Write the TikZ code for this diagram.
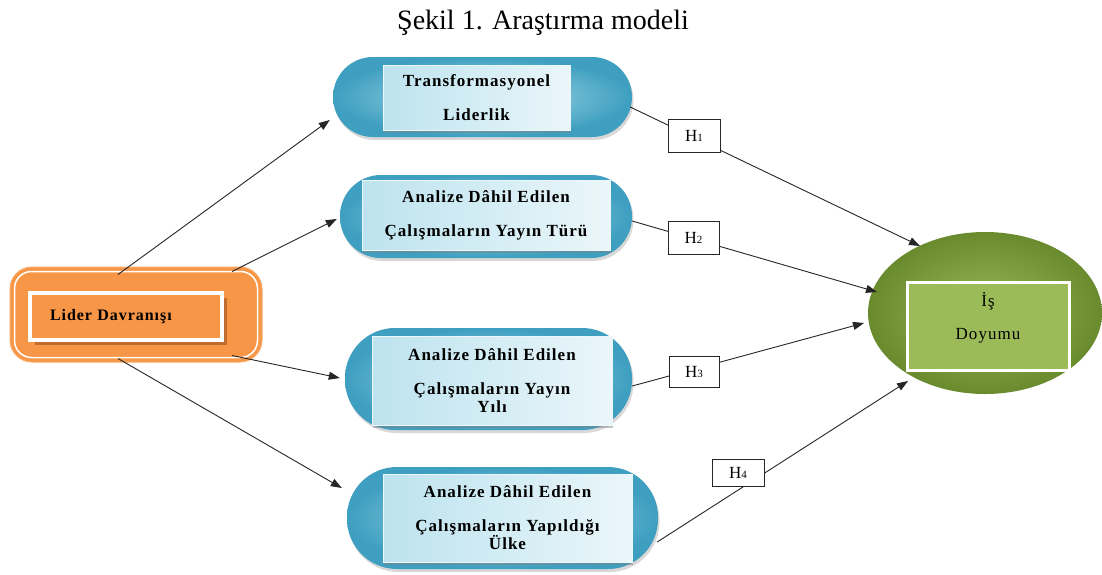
\documentclass[tikz,border=0pt]{standalone}
\usepackage{fontspec}
\setmainfont{Liberation Serif}
\newfontfamily\nf[LetterSpace=6]{Liberation Serif}
\usetikzlibrary{shadows,arrows.meta,shapes.geometric}
\definecolor{pillout}{HTML}{3E9FC0}
\definecolor{pillin}{HTML}{B0DFEC}
\definecolor{boxa}{HTML}{BDE3EE}
\definecolor{boxb}{HTML}{EAF6FA}
\definecolor{orng}{HTML}{F79646}
\definecolor{orngd}{HTML}{B9682C}
\definecolor{grnout}{HTML}{6A8A2E}
\definecolor{grnin}{HTML}{9AB85C}
\definecolor{grnbox}{HTML}{9BBB59}
\begin{document}
\begin{tikzpicture}[x=1pt,y=-1pt,
  pill/.style={rectangle, inner color=pillin, outer color=pillout,
    drop shadow={shadow xshift=1.5pt, shadow yshift=-3pt, opacity=0.3}},
  ibox/.style={rectangle, left color=boxa, right color=boxb, draw=white!70!boxa, line width=0.8pt,
    drop shadow={shadow xshift=1pt, shadow yshift=-2.5pt, opacity=0.45},
    font=\nf\bfseries\fontsize{17}{18}\selectfont, align=center, inner sep=0pt},
  hbox/.style={rectangle, draw=black!85, fill=white, line width=0.8pt, inner sep=0pt,
    font=\fontsize{17}{17}\selectfont},
  arr/.style={-{Triangle[length=11pt,width=8pt]}, line width=0.9pt, draw=black!85},
  ln/.style={line width=0.9pt, draw=black!85}]
\useasboundingbox[fill=white] (0,0) rectangle (1102,574);
\node[anchor=base, font=\fontsize{28}{30}\selectfont] (title) at (543,29) {Şekil 1. Araştırma modeli};
% pills
\node[pill, rounded corners=40pt, minimum width=299pt, minimum height=80pt] (P1) at (482.5,97) {};
\node[pill, rounded corners=41pt, minimum width=292pt, minimum height=83pt] (P2) at (486,216.5) {};
\node[pill, rounded corners=50pt, minimum width=287pt, minimum height=102pt] (P3) at (488.5,379) {};
\node[pill, rounded corners=50pt, minimum width=311pt, minimum height=102pt] (P4) at (502.5,518) {};
\node[ibox, minimum width=187pt, minimum height=65pt] (I1) at (476.5,97.5) {Transformasyonel\\[16pt]Liderlik};
\node[ibox, minimum width=248pt, minimum height=70pt] (I2) at (486,215) {Analize Dâhil Edilen\\[16pt]Çalışmaların Yayın Türü};
\node[ibox, minimum width=240pt, minimum height=89pt] (I3) at (492,380.5) {Analize Dâhil Edilen\\[16pt]Çalışmaların Yayın\\Yılı};
\node[ibox, minimum width=249pt, minimum height=88pt] (I4) at (507.5,518) {Analize Dâhil Edilen\\[16pt]Çalışmaların Yapıldığı\\Ülke};
% lider
\node[rectangle, rounded corners=22pt, fill=orng, draw=orng!80!white, line width=1pt,
  minimum width=252pt, minimum height=95pt] (L) at (136,314.5) {};
\draw[white, line width=1.5pt, rounded corners=17pt]
  ([xshift=5pt,yshift=-5pt]L.north west) rectangle ([xshift=-5pt,yshift=5pt]L.south east);
\node[rectangle, fill=orng, draw=white, line width=3.5pt, minimum width=192pt, minimum height=47pt,
  text width=152pt, inner xsep=20pt, align=left,
  drop shadow={fill=orngd, opacity=0.9, shadow xshift=5pt, shadow yshift=-5pt},
  font=\nf\bfseries\fontsize{16}{18}\selectfont] (LI) at (126,316.5) {Lider Davranışı};
% ellipse
\node[ellipse, inner color=grnin, outer color=grnout, minimum width=234pt, minimum height=162pt] (E) at (985,313) {};
\node[rectangle, fill=grnbox, draw=white, line width=3pt, minimum width=162pt, minimum height=88pt,
  drop shadow={opacity=0.3, shadow xshift=1pt, shadow yshift=-2pt}] (EB) at (988,326) {};
\node[font=\nf\fontsize{17}{19}\selectfont, align=center] (ET) at (988,318) {İş\\[14pt]Doyumu};
% arrows from lider
\draw[arr] ([xshift=-18pt,yshift=-8pt]L.north) -- ([xshift=-3pt,yshift=-23pt]P1.west);
\draw[arr] ([xshift=96pt,yshift=-5pt]L.north) -- ([xshift=-3pt,yshift=-2.5pt]P2.west);
\draw[arr] ([xshift=96pt,yshift=7pt]L.south) -- ([xshift=-5pt,yshift=1pt]P3.west);
\draw[arr] ([xshift=-18pt,yshift=4pt]L.south) -- ([xshift=-5pt,yshift=30pt]P4.west);
% arrows to ellipse
\draw[arr] ([xshift=-2pt,yshift=-10pt]P1.east) -- ([xshift=-65pt,yshift=67pt]E.center);
\draw[arr] ([yshift=-4.5pt]P2.east) -- ([xshift=-108pt,yshift=21pt]E.center);
\draw[arr] ([yshift=-7pt]P3.east) -- ([xshift=-121pt,yshift=-10pt]E.center);
\draw[arr] ([xshift=-1pt,yshift=-24pt]P4.east) -- ([xshift=-77pt,yshift=-68pt]E.center);
% H boxes
\node[hbox, minimum width=52pt, minimum height=33pt] (H1) at (694,135.5) {H{\fontsize{11}{11}\selectfont 1}};
\node[hbox, minimum width=51pt, minimum height=33pt] (H2) at (693.5,237.5) {H{\fontsize{11}{11}\selectfont 2}};
\node[hbox, minimum width=50pt, minimum height=31pt] (H3) at (694,371.5) {H{\fontsize{11}{11}\selectfont 3}};
\node[hbox, minimum width=52pt, minimum height=27pt] (H4) at (738,472.5) {H{\fontsize{11}{11}\selectfont 4}};
\end{tikzpicture}
\end{document}
